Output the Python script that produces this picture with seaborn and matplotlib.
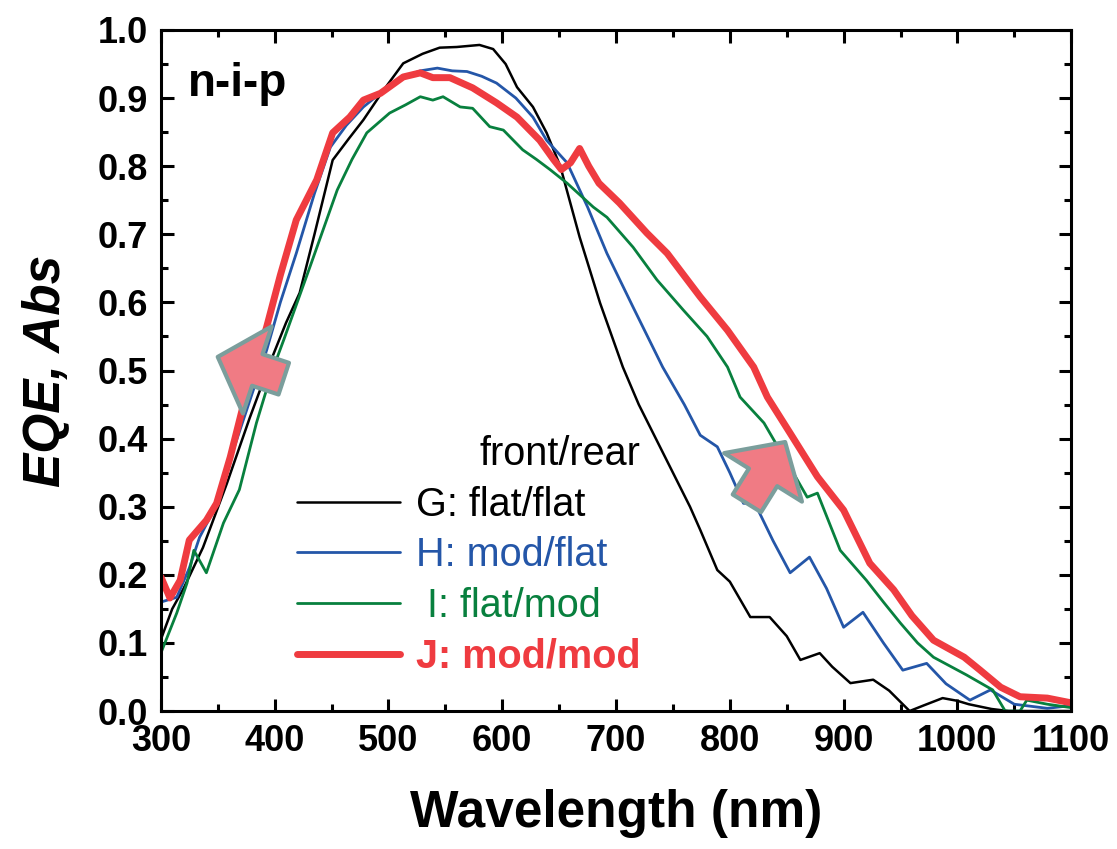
import numpy as np
import pandas as pd
import matplotlib
matplotlib.use("Agg")
import matplotlib.pyplot as plt
import seaborn as sns

# ---- data ----
wl_G = [300, 310, 320, 337, 358, 378, 398, 410, 422, 435, 451, 465, 478, 495, 513, 530, 545, 560,
        580, 592, 603, 613, 627, 639, 651, 668, 686, 706, 720, 735, 750, 765, 774, 789, 800, 818, 835,
        850, 862, 879, 890, 906, 926, 940, 958, 970, 987, 1000, 1010, 1030, 1045, 1100]
eqe_G = [0.105, 0.15, 0.18, 0.24, 0.334, 0.43, 0.52, 0.57, 0.614, 0.70, 0.809, 0.84, 0.868, 0.91,
         0.951, 0.965, 0.974, 0.975, 0.978, 0.972, 0.95, 0.916, 0.887, 0.849, 0.80, 0.696, 0.599, 0.505,
         0.45, 0.40, 0.35, 0.30, 0.266, 0.207, 0.19, 0.138, 0.138, 0.11, 0.075, 0.085, 0.065, 0.041,
         0.046, 0.03, 0.0, 0.008, 0.019, 0.015, 0.01, 0.003, 0.0, 0.0]

wl_H = [300, 314, 325, 334, 345, 361, 375, 393, 405, 419, 435, 449, 463, 478, 495, 513, 528, 543,
        556, 569, 582, 595, 612, 627, 639, 657, 675, 692, 715, 741, 760, 774, 789, 800, 812, 822,
        838, 853, 870, 885, 900, 917, 935, 952, 973, 990, 1011, 1029, 1050, 1079, 1100]
eqe_H = [0.16, 0.167, 0.21, 0.255, 0.29, 0.37, 0.44, 0.53, 0.60, 0.672, 0.76, 0.828, 0.86, 0.887,
         0.91, 0.931, 0.94, 0.944, 0.94, 0.939, 0.932, 0.922, 0.90, 0.872, 0.838, 0.805, 0.74,
         0.672, 0.593, 0.505, 0.45, 0.405, 0.388, 0.35, 0.305, 0.305, 0.25, 0.203, 0.226, 0.18,
         0.123, 0.145, 0.10, 0.06, 0.07, 0.04, 0.016, 0.031, 0.01, 0.004, 0.008]

wl_I = [300, 314, 323, 329, 340, 355, 369, 384, 398, 408, 431, 455, 468, 481, 501, 515, 528, 539,
        548, 563, 574, 589, 601, 618, 630, 642, 657, 680, 692, 715, 736, 759, 780, 798, 809, 830,
        845, 856, 868, 877, 897, 920, 935, 950, 965, 979, 1008, 1031, 1042, 1055, 1061, 1079, 1100]
eqe_I = [0.085, 0.144, 0.188, 0.236, 0.203, 0.276, 0.325, 0.423, 0.50, 0.545, 0.652, 0.765, 0.81,
         0.849, 0.878, 0.89, 0.902, 0.897, 0.902, 0.887, 0.885, 0.858, 0.853, 0.824, 0.81, 0.795,
         0.775, 0.74, 0.725, 0.681, 0.633, 0.589, 0.55, 0.505, 0.461, 0.423, 0.38, 0.349, 0.314,
         0.32, 0.236, 0.192, 0.16, 0.129, 0.10, 0.079, 0.053, 0.031, 0.0, 0.0, 0.016, 0.01, 0.005]

wl_J = [300, 308, 317, 325, 340, 349, 361, 372, 393, 405, 419, 437, 451, 466, 478, 493, 513, 528,
        539, 554, 574, 595, 613, 633, 645, 652, 660, 668, 676, 685, 703, 727, 745, 774, 798, 821,
        833, 853, 877, 900, 923, 944, 960, 979, 1006, 1020, 1038, 1055, 1079, 1100]
eqe_J = [0.197, 0.166, 0.192, 0.251, 0.28, 0.305, 0.373, 0.446, 0.564, 0.64, 0.721, 0.78, 0.849,
         0.872, 0.897, 0.907, 0.931, 0.937, 0.93, 0.93, 0.915, 0.893, 0.872, 0.838, 0.81, 0.795,
         0.805, 0.826, 0.80, 0.775, 0.746, 0.702, 0.672, 0.608, 0.559, 0.505, 0.461, 0.408, 0.344,
         0.295, 0.217, 0.178, 0.14, 0.104, 0.079, 0.06, 0.035, 0.021, 0.019, 0.012]

labels = ["G: flat/flat", "H: mod/flat", " I: flat/mod", "J: mod/mod"]
colors = ["#000000", "#2456A8", "#08803E", "#EF3B40"]
widths = [1.8, 2.0, 2.0, 5.0]

sns.set_style("ticks")
plt.rcParams['font.family'] = ['Liberation Sans', 'DejaVu Sans']
plt.rcParams.update({"text.color": "black", "axes.labelcolor": "black",
                     "xtick.color": "black", "ytick.color": "black",
                     "axes.edgecolor": "black"})

fig = plt.figure(figsize=(11.17, 8.49), dpi=100)
ax = fig.add_axes([0.144, 0.1625, 0.815, 0.8022])

series = [(wl_G, eqe_G), (wl_H, eqe_H), (wl_I, eqe_I), (wl_J, eqe_J)]
for (x, y), lab, c, w in zip(series, labels, colors, widths):
    df = pd.DataFrame({"wl": x, "eqe": y})
    sns.lineplot(data=df, x="wl", y="eqe", color=c, linewidth=w, label=lab, ax=ax,
                 solid_capstyle="round", solid_joinstyle="round")

ax.set_xlim(300, 1100)
ax.set_ylim(0, 1.0)
ax.set_xticks(np.arange(300, 1101, 100))
ax.set_xticks(np.arange(350, 1100, 100), minor=True)
ax.set_yticks(np.arange(0, 1.01, 0.1))
ax.set_yticks(np.arange(0.05, 1.0, 0.1), minor=True)
ax.set_yticklabels([f"{v:.1f}" for v in np.arange(0, 1.01, 0.1)])
ax.tick_params(which="both", direction="in", top=True, right=True, width=2.2)
ax.tick_params(which="major", length=9, labelsize=26, pad=9)
ax.tick_params(which="minor", length=5)
for t in ax.get_xticklabels() + ax.get_yticklabels():
    t.set_fontweight("bold")
for s in ax.spines.values():
    s.set_linewidth(2.2)

ax.set_xlabel("Wavelength (nm)", fontsize=37, fontweight="bold", labelpad=22)
ax.set_ylabel("EQE, Abs", fontsize=37, fontweight="bold", style="italic", labelpad=20)

ax.text(324, 0.92, "n-i-p", fontsize=33, fontweight="bold", va="center", ha="left")

leg = ax.legend(loc="lower left", bbox_to_anchor=(0.128, 0.023), frameon=False, fontsize=28.5,
                title="front/rear", title_fontsize=28.5, alignment="right",
                handlelength=2.6, handletextpad=0.4, labelspacing=0.32, borderpad=0)
for txt, c in zip(leg.get_texts(), colors):
    txt.set_color(c)
leg.get_texts()[3].set_fontweight("bold")

# fat arrows
arrow_fc = "#F07B84"
arrow_ec = "#7B9E9C"
for tip, tail in [((350, 0.52), (408, 0.488)), ((848.6, 0.395), (815, 0.305))]:
    ax.annotate("", xy=tip, xytext=tail,
                arrowprops=dict(arrowstyle="simple,head_length=3.0,head_width=6.6,tail_width=2.4",
                                mutation_scale=10, fc=arrow_fc, ec=arrow_ec, lw=3,
                                shrinkA=0, shrinkB=0))

fig.savefig("out.png", dpi=100)
